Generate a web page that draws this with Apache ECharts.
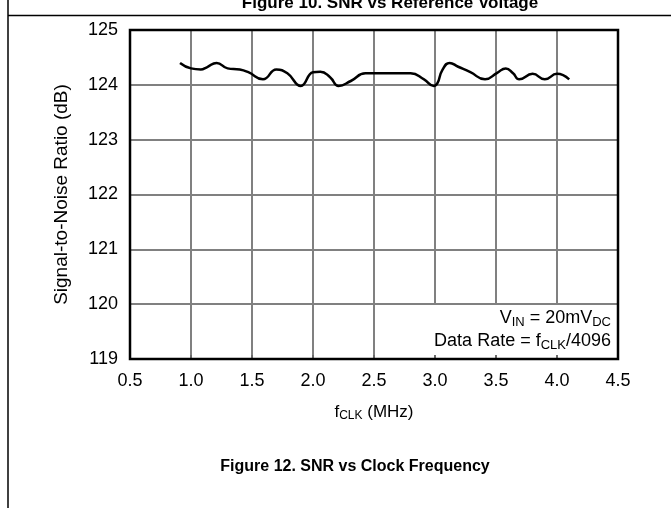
<!DOCTYPE html>
<html>
<head>
<meta charset="utf-8">
<script src="https://cdn.jsdelivr.net/npm/echarts@6/dist/echarts.min.js"></script>
<style>html,body{margin:0;padding:0;background:#fff}#c{width:671px;height:508px}</style>
</head>
<body>
<div id="c"></div>
<script>
var freqMHz = [0.91, 1.0, 1.08, 1.13, 1.21, 1.3, 1.4, 1.47, 1.59, 1.7, 1.79, 1.9, 2.0, 2.06, 2.14, 2.21, 2.31, 2.43, 2.55, 2.8, 2.91, 2.99, 3.02, 3.06, 3.12, 3.19, 3.29, 3.41, 3.51, 3.58, 3.64, 3.69, 3.8, 3.9, 4.0, 4.1];
var snrDb = [124.40, 124.30, 124.28, 124.32, 124.40, 124.30, 124.28, 124.23, 124.10, 124.28, 124.21, 123.98, 124.23, 124.24, 124.14, 123.98, 124.07, 124.21, 124.21, 124.21, 124.10, 123.98, 124.03, 124.27, 124.40, 124.33, 124.23, 124.10, 124.22, 124.30, 124.21, 124.10, 124.20, 124.10, 124.20, 124.10];
var xTicks = {min: 0.5, max: 4.5, interval: 0.5};
var yTicks = {min: 119, max: 125, interval: 1};

var pts = freqMHz.map(function (f, i) { return [f, snrDb[i]]; });
var FONT = '"Liberation Sans", Arial, sans-serif';
var chart = echarts.init(document.getElementById('c'), null, {renderer: 'canvas'});
function rich(sz, sub) {
  return {
    b: {fontSize: sz, fontFamily: FONT, color: '#000', lineHeight: sz + 3},
    s: {fontSize: sub, fontFamily: FONT, color: '#000', lineHeight: sz + 3, verticalAlign: 'bottom', padding: [Math.round(sz * 0.42), 0, 0, 0]}
  };
}
chart.setOption({
  animation: false,
  grid: {left: 130, right: 53, top: 30, bottom: 149, show: true, borderColor: '#000', borderWidth: 2.5, backgroundColor: 'transparent', z: 3},
  xAxis: {
    type: 'value', min: xTicks.min, max: xTicks.max, interval: xTicks.interval,
    axisLine: {show: false},
    axisTick: {show: true, inside: true, length: 4, lineStyle: {color: '#666', width: 1.5}},
    splitLine: {show: true, lineStyle: {color: '#808080', width: 2}},
    axisLabel: {color: '#000', fontSize: 18, fontFamily: FONT, margin: 13, formatter: function (v) { return v.toFixed(1); }},
    name: '{b|f}{s|CLK}{b| (MHz)}', nameLocation: 'middle', nameGap: 43,
    nameTextStyle: {rich: rich(17, 12)}
  },
  yAxis: {
    type: 'value', min: yTicks.min, max: yTicks.max, interval: yTicks.interval,
    axisLine: {show: false}, axisTick: {show: false},
    splitLine: {show: true, lineStyle: {color: '#808080', width: 2}},
    axisLabel: {color: '#000', fontSize: 18, fontFamily: FONT, margin: 12},
    name: 'Signal-to-Noise Ratio (dB)', nameLocation: 'middle', nameGap: 59,
    nameTextStyle: {color: '#000', fontSize: 19, fontFamily: FONT}
  },
  series: [{
    type: 'line', data: pts, smooth: 0.5, showSymbol: false, symbol: 'none',
    lineStyle: {color: '#000', width: 2.5},
    markArea: {
      silent: true,
      itemStyle: {color: '#fff'},
      data: [[{coord: [2.96, 119.985]}, {coord: [4.5, 119.075]}]]
    }
  }],
  graphic: [
    {type: 'line', shape: {x1: 8, y1: 0, x2: 8, y2: 508}, style: {stroke: '#000', lineWidth: 1.5}},
    {type: 'line', shape: {x1: 8, y1: 15.5, x2: 671, y2: 15.5}, style: {stroke: '#000', lineWidth: 1.5}},
    {type: 'text', x: 390, y: -5, style: {text: 'Figure 10. SNR vs Reference Voltage', font: 'bold 17px ' + FONT, fill: '#000', align: 'center', verticalAlign: 'top'}},
    {type: 'text', x: 355, y: 459, style: {text: 'Figure 12. SNR vs Clock Frequency', font: 'bold 16px ' + FONT, fill: '#000', align: 'center', verticalAlign: 'top'}},
    {type: 'text', x: 611, y: 308, z: 100, style: {text: '{b|V}{s|IN}{b| = 20mV}{s|DC}', rich: rich(18, 13), align: 'right', verticalAlign: 'top'}},
    {type: 'text', x: 611, y: 331, z: 100, style: {text: '{b|Data Rate = f}{s|CLK}{b|/4096}', rich: rich(18, 13), align: 'right', verticalAlign: 'top'}}
  ]
});
</script>
</body>
</html>
